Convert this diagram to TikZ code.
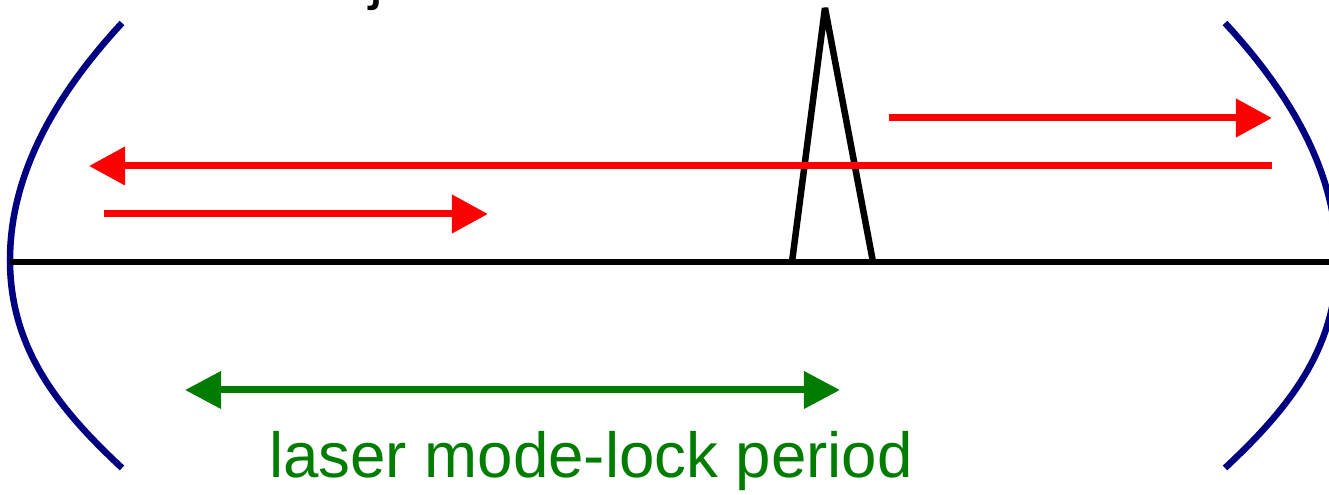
\documentclass[tikz,border=0pt]{standalone}
\usepackage{fontspec}
\setmainfont{Liberation Sans}
\usetikzlibrary{arrows.meta}
\definecolor{mirrorblue}{RGB}{0,0,128}
\definecolor{periodgreen}{RGB}{0,125,0}
\begin{document}
\begin{tikzpicture}[
    x=0.01cm, y=-0.01cm,
    mirror/.style={draw=mirrorblue, line width=0.065cm},
    beam/.style={draw=red, line width=0.07cm, -{Triangle[length=0.36cm, width=0.37cm]}},
    axisline/.style={draw=black, line width=0.065cm},
    pulse/.style={draw=black, line width=0.065cm, line join=bevel},
    period/.style={draw=periodgreen, line width=0.07cm,
      {Triangle[length=0.36cm, width=0.36cm]}-{Triangle[length=0.36cm, width=0.36cm]}}
  ]
  % Page frame
  \useasboundingbox (0,0) rectangle (1329,495);

  % Cut-off label above the picture
  \node[anchor=base west, inner sep=0pt, font=\fontsize{18}{22}\selectfont] (toplabel) at (369,-2) {j};

  % Cavity mirrors
  \draw[mirror] (122,23) .. controls (60,90) and (10,170) .. (10,260)
                         .. controls (10,350) and (60,410) .. (122,468);
  \draw[mirror] (1225,23) .. controls (1287,90) and (1337,170) .. (1337,260)
                          .. controls (1337,350) and (1287,410) .. (1225,468);

  % Cavity axis and pulse
  \coordinate (axisL) at (10,262);
  \coordinate (axisR) at (1329,262);
  \draw[axisline] (axisL) -- (axisR);
  \coordinate (pulseL) at (792,262);
  \coordinate (pulseTop) at (825,8);
  \coordinate (pulseR) at (873,262);
  \draw[pulse] (pulseL) -- (pulseTop) -- (pulseR);

  % Round trip of the beam
  \coordinate (b1s) at (889,118);  \coordinate (b1e) at (1272,118);
  \coordinate (b2s) at (1272,166); \coordinate (b2e) at (89,166);
  \coordinate (b3s) at (104,214);  \coordinate (b3e) at (488,214);
  \draw[beam] (b1s) -- (b1e);
  \draw[beam] (b2s) -- (b2e);
  \draw[beam] (b3s) -- (b3e);

  % Period marker
  \coordinate (perL) at (185,390);
  \coordinate (perR) at (840,390);
  \draw[period] (perL) -- (perR);
  \node[anchor=base, inner sep=0pt, text=periodgreen,
        font=\fontsize{18.1}{22}\selectfont] (periodlabel) at (591,478) {laser mode-lock period};

\end{tikzpicture}
\end{document}
